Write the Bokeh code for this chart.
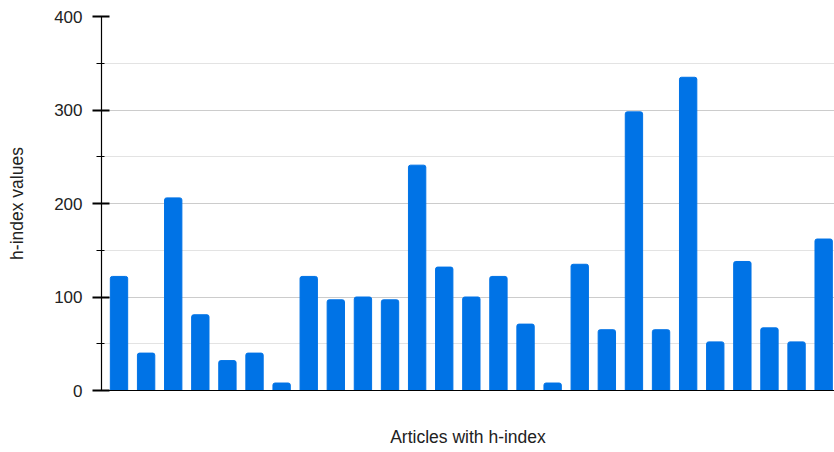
from bokeh.plotting import figure
from bokeh.models import Range1d, FixedTicker
from bokeh.embed import file_html
from bokeh.resources import INLINE

# Data
articles = list(range(1, 28))
h_index = [122, 40, 206, 81, 32, 40, 8, 122, 97, 100, 97, 241, 132, 100, 122,
           71, 8, 135, 65, 298, 65, 335, 52, 138, 67, 52, 162]
y_major_ticks = [0, 100, 200, 300, 400]
y_minor_ticks = [50, 150, 250, 350]
x_title = "Articles with h-index"
y_title = "h-index values"

BAR_COLOR = "#0073E6"
FONT = "Liberation Sans"

xs = [i - 1 for i in articles]

p = figure(width=834, height=452, output_backend="svg", toolbar_location=None,
           x_range=Range1d(-0.646, 26.4), y_range=Range1d(0, 400),
           min_border_left=101, min_border_right=0, min_border_top=16,
           min_border_bottom=62)
p.outline_line_color = None
p.background_fill_color = "white"
p.border_fill_color = "white"

p.vbar(x=xs, top=h_index, width=0.64, bottom=0, color=BAR_COLOR,
       border_radius=[2, 2, 0, 0])

# Y axis
ya = p.yaxis[0]
ya.ticker = FixedTicker(ticks=y_major_ticks, minor_ticks=y_minor_ticks)
ya.axis_line_color = "black"
ya.axis_line_width = 1.2
ya.major_tick_in = 8
ya.major_tick_out = 9
ya.major_tick_line_width = 2
ya.major_tick_line_color = "black"
ya.minor_tick_in = 3
ya.minor_tick_out = 5
ya.minor_tick_line_width = 1.2
ya.minor_tick_line_color = "black"
ya.major_label_standoff = 10
ya.major_label_text_font = FONT
ya.major_label_text_font_size = "17px"
ya.major_label_text_color = "#222222"
ya.axis_label = y_title
ya.axis_label_text_font = FONT
ya.axis_label_text_font_size = "17.5px"
ya.axis_label_text_font_style = "normal"
ya.axis_label_text_color = "#222222"
ya.axis_label_standoff = 24

# X axis
xa = p.xaxis[0]
xa.ticker = FixedTicker(ticks=[])
xa.axis_line_color = "black"
xa.axis_line_width = 1.2
xa.major_tick_out = 0
xa.major_tick_in = 0
xa.minor_tick_out = 0
xa.minor_tick_in = 0
xa.major_label_standoff = 0
xa.axis_label = x_title
xa.axis_label_text_font = FONT
xa.axis_label_text_font_size = "17.5px"
xa.axis_label_text_font_style = "normal"
xa.axis_label_text_color = "#222222"
xa.axis_label_standoff = 36

# Grid
p.xgrid.grid_line_color = None
p.ygrid.ticker = FixedTicker(ticks=y_major_ticks, minor_ticks=y_minor_ticks)
p.ygrid.grid_line_color = "#cccccc"
p.ygrid.grid_line_width = 1.2
p.ygrid.minor_grid_line_color = "#e3e3e3"
p.ygrid.minor_grid_line_width = 1.2

open("out.html", "w").write(file_html(p, INLINE))
